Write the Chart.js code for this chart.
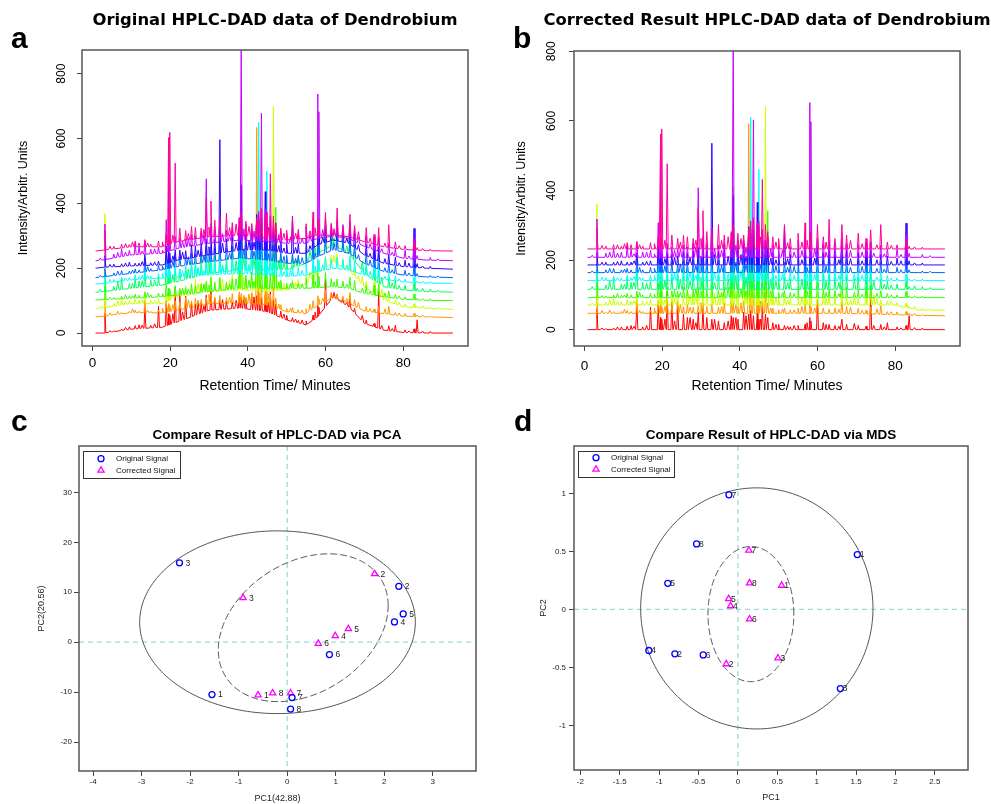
<!DOCTYPE html>
<html lang="en">
<head>
<meta charset="UTF-8">
<title>HPLC-DAD data of Dendrobium</title>
<script src="https://cdn.jsdelivr.net/npm/chart.js"></script>
<style>
  body { margin: 0; background: #fff; font-family: "Liberation Sans", Arial, sans-serif; }
  #figure { position: relative; width: 991px; height: 804px; overflow: hidden; background: #fff; }
  canvas { position: absolute; }
  .letter { position: absolute; font: bold 30px/30px "Liberation Sans", Arial, sans-serif; color: #000; }
  .title { position: absolute; text-align: center; white-space: nowrap; color: #000; }
  .big { font: bold 16.4px/16.4px "DejaVu Sans", sans-serif; }
  .small { font: bold 13.5px/13.5px "Liberation Sans", Arial, sans-serif; }
</style>
</head>
<body>
<div id="figure">
  <canvas id="chartA" width="495" height="400" style="left:0;top:0"></canvas>
  <canvas id="chartB" width="496" height="400" style="left:495px;top:0"></canvas>
  <canvas id="chartC" width="495" height="404" style="left:0;top:400px"></canvas>
  <canvas id="chartD" width="496" height="404" style="left:495px;top:400px"></canvas>

  <div class="letter" style="left:11px;top:23px">a</div>
  <div class="letter" style="left:513px;top:23px">b</div>
  <div class="letter" style="left:11px;top:406px">c</div>
  <div class="letter" style="left:514px;top:406px">d</div>

  <div class="title big" style="left:0;width:550px;top:12px">Original HPLC-DAD data of Dendrobium</div>
  <div class="title big" style="left:467px;width:600px;top:12px">Corrected Result HPLC-DAD data of Dendrobium</div>
  <div class="title small" style="left:77px;width:400px;top:428px">Compare Result of HPLC-DAD via PCA</div>
  <div class="title small" style="left:571px;width:400px;top:428px">Compare Result of HPLC-DAD via MDS</div>
</div>

<script>
  // ---- chromatograms (a, b) ----
  const traceNames = ['1', '2', '3', '4', '5', '6', '7', '8', '9', '10'];
  const traceColors = ['#FF0000', '#FF9900', '#CCFF00', '#33FF00', '#00FF66', '#00FFFF', '#0066FF', '#3300FF', '#CC00FF', '#FF0099'];
  const timeTicks = [0, 20, 40, 60, 80];
  const intensityTicks = [0, 200, 400, 600, 800];

  // main peak retention times (min)
  const retentionTimes = [3.2, 5.5, 7.5, 9.5, 11, 12, 13.5, 15, 17, 19,
    19.6, 19.9, 21.3, 22.5, 24, 25.5, 26.5, 28, 29.3, 30.5,
    31.5, 32.8, 34.5, 36, 37.8, 38.3, 39.5, 41, 42.3, 42.8,
    43.5, 44.5, 44.9, 45.8, 46.6, 47.2, 48.5, 50, 51.5, 53,
    55, 56.8, 58, 58.3, 60, 61.5, 63, 64.5, 66.3, 67.5,
    70.5, 72.5, 73.7, 76.3, 78, 80.5, 82.8, 83.6, 87];

  // main peak heights above the baseline, one array per sample
  const hRed = [60, 3, 5, 8, 10, 12, 65, 8, 65, 70, 35, 30, 110, 85, 70, 45, 35, 30, 50, 60, 35, 30, 25, 20, 40, 35, 30, 50, 45, 55, 40, 50, 30, 65, 45, 35, 20, 15, 12, 8, 12, 15, 35, 25, 85, 20, 15, 12, 30, 15, 12, 10, 120, 15, 20, 8, 12, 40, 5];
  const hOrange = [45, 3, 5, 5, 8, 5, 40, 5, 8, 35, 25, 20, 30, 25, 35, 20, 25, 18, 22, 30, 20, 25, 18, 30, 35, 30, 20, 35, 545, 50, 60, 45, 40, 35, 60, 30, 15, 10, 15, 10, 15, 25, 30, 20, 35, 15, 12, 15, 35, 20, 15, 10, 20, 25, 8, 8, 10, 5, 3];
  const hYellow = [290, 8, 25, 10, 15, 10, 25, 10, 15, 25, 20, 15, 25, 20, 30, 25, 45, 30, 35, 40, 30, 35, 25, 50, 45, 60, 30, 50, 40, 110, 70, 50, 45, 40, 570, 50, 25, 20, 25, 20, 25, 40, 35, 30, 35, 25, 30, 25, 40, 25, 20, 35, 40, 15, 12, 8, 12, 5, 5];
  const hGreen = [40, 5, 8, 8, 12, 8, 18, 8, 12, 40, 25, 20, 30, 20, 18, 30, 22, 25, 30, 45, 25, 40, 22, 30, 60, 320, 40, 50, 110, 80, 70, 60, 50, 45, 50, 250, 25, 15, 20, 15, 30, 40, 45, 35, 45, 25, 25, 20, 35, 30, 25, 30, 35, 20, 12, 8, 18, 5, 5];
  const hGreen2 = [45, 12, 35, 15, 30, 20, 55, 20, 25, 55, 45, 35, 45, 35, 40, 50, 45, 50, 60, 70, 50, 55, 40, 60, 70, 150, 60, 70, 80, 90, 80, 70, 60, 50, 50, 60, 35, 30, 35, 30, 50, 65, 55, 50, 60, 50, 45, 35, 60, 40, 35, 45, 50, 30, 25, 15, 25, 8, 8];
  const hCyan = [30, 8, 12, 8, 15, 8, 35, 8, 15, 45, 35, 25, 35, 25, 30, 40, 35, 30, 50, 45, 40, 50, 35, 45, 50, 70, 50, 60, 80, 470, 90, 80, 320, 60, 50, 50, 30, 25, 30, 25, 35, 45, 40, 35, 40, 30, 35, 30, 45, 35, 30, 35, 45, 25, 15, 8, 18, 5, 5];
  const hLightBlue = [25, 8, 12, 8, 12, 8, 40, 8, 15, 55, 35, 30, 40, 30, 25, 35, 30, 35, 50, 45, 40, 60, 35, 40, 50, 80, 45, 50, 70, 110, 80, 90, 70, 60, 50, 55, 30, 25, 30, 25, 40, 50, 45, 40, 45, 35, 40, 35, 50, 40, 35, 40, 50, 30, 25, 15, 35, 8, 5];
  const hBlue = [35, 8, 8, 12, 8, 8, 35, 8, 12, 55, 35, 30, 35, 30, 25, 40, 35, 40, 50, 60, 45, 350, 40, 50, 70, 200, 50, 60, 110, 90, 100, 180, 80, 70, 60, 50, 35, 30, 115, 30, 45, 55, 50, 40, 50, 35, 45, 40, 55, 45, 35, 40, 45, 30, 25, 20, 120, 12, 6];
  const hPurple = [110, 12, 25, 15, 35, 25, 40, 15, 20, 100, 55, 40, 40, 30, 25, 35, 30, 40, 200, 60, 40, 50, 35, 40, 70, 620, 50, 50, 70, 80, 395, 100, 90, 80, 50, 60, 35, 30, 40, 30, 50, 65, 445, 390, 55, 40, 50, 40, 55, 40, 35, 40, 45, 35, 25, 25, 65, 12, 8];
  const hPink = [60, 8, 12, 8, 18, 12, 22, 8, 18, 35, 330, 345, 245, 40, 30, 40, 35, 30, 120, 110, 50, 60, 70, 40, 50, 70, 45, 40, 60, 80, 90, 70, 80, 200, 70, 50, 35, 30, 70, 30, 45, 75, 50, 50, 70, 35, 85, 30, 70, 40, 45, 30, 55, 70, 20, 12, 25, 8, 5];
  const traceHeights = [hRed, hOrange, hYellow, hGreen, hGreen2, hCyan, hLightBlue, hBlue, hPurple, hPink];

  // minor peak retention times (min)
  const minorTimes = [2, 4.5, 6.5, 8.5, 10.3, 12.8, 14.2, 16, 18, 20.7,
    23.2, 24.7, 27.2, 28.7, 30, 33.5, 35.3, 37, 39, 40.3,
    41.6, 45.3, 48, 49.3, 51, 52.3, 54, 56, 57.3, 59.3,
    62.2, 65.5, 68.5, 69.5, 71.5, 74.5, 75.3, 77.2, 79, 81.5, 85, 89];
  const mRed = [0, 5, 0, 8, 0, 10, 0, 12, 0, 30, 25, 0, 35, 20, 0, 30, 0, 25, 35, 0, 40, 30, 0, 15, 0, 10, 12, 0, 20, 0, 15, 10, 0, 18, 0, 12, 0, 8, 0, 5, 6, 0];
  const mOrange = [0, 8, 10, 0, 12, 0, 8, 0, 15, 20, 0, 25, 18, 0, 30, 0, 20, 0, 25, 30, 0, 35, 15, 0, 12, 0, 10, 20, 0, 15, 0, 12, 18, 0, 10, 0, 15, 0, 8, 0, 5, 0];
  const mYellow = [5, 0, 15, 10, 0, 12, 0, 10, 0, 15, 20, 0, 30, 25, 0, 35, 30, 0, 40, 0, 30, 0, 25, 20, 0, 15, 0, 25, 15, 0, 20, 0, 15, 25, 0, 30, 20, 0, 10, 0, 8, 4];
  const mGreen = [0, 6, 0, 12, 8, 0, 15, 0, 10, 0, 20, 15, 0, 25, 20, 0, 15, 30, 0, 25, 20, 0, 20, 0, 15, 0, 12, 0, 20, 0, 15, 12, 0, 15, 10, 0, 12, 0, 8, 0, 5, 0];
  const mGreen2 = [8, 0, 25, 0, 15, 20, 0, 18, 0, 25, 0, 30, 25, 0, 35, 20, 0, 30, 40, 0, 35, 0, 30, 25, 0, 20, 0, 30, 25, 0, 25, 20, 0, 30, 0, 25, 0, 15, 12, 0, 10, 5];
  const mCyan = [0, 10, 0, 8, 0, 12, 10, 0, 15, 0, 20, 0, 25, 15, 0, 25, 0, 20, 0, 30, 0, 25, 0, 15, 20, 0, 15, 0, 20, 18, 0, 15, 0, 20, 15, 0, 10, 0, 8, 0, 5, 0];
  const mLightBlue = [5, 0, 12, 0, 10, 0, 15, 0, 12, 20, 0, 25, 0, 20, 25, 0, 20, 0, 30, 0, 25, 20, 0, 20, 0, 15, 18, 0, 15, 0, 20, 0, 15, 0, 18, 0, 12, 10, 0, 8, 0, 4];
  const mBlue = [0, 8, 0, 10, 0, 12, 0, 10, 0, 18, 22, 0, 20, 0, 25, 30, 0, 25, 0, 30, 25, 0, 20, 15, 0, 18, 0, 15, 0, 20, 0, 15, 18, 0, 12, 0, 15, 0, 10, 12, 6, 0];
  const mPurple = [6, 0, 15, 12, 0, 10, 0, 15, 10, 0, 20, 25, 0, 30, 0, 25, 20, 0, 35, 0, 30, 0, 25, 0, 20, 0, 15, 20, 0, 25, 15, 0, 20, 0, 15, 12, 0, 10, 0, 8, 0, 5];
  const mPink = [0, 10, 0, 12, 15, 0, 12, 0, 15, 25, 0, 20, 0, 25, 30, 0, 25, 35, 0, 30, 0, 35, 0, 20, 0, 18, 0, 20, 25, 0, 20, 0, 25, 0, 15, 0, 12, 0, 10, 0, 6, 0];
  const minorHeights = [mRed, mOrange, mYellow, mGreen, mGreen2, mCyan, mLightBlue, mBlue, mPurple, mPink];

  // baselines read at these times
  const baselineTimes = [0.8, 3, 10, 18, 22, 30, 38, 45, 50, 55, 58, 62, 66, 70, 75, 80, 86, 92.8];

  // original signal: drifting baselines
  const origBaselines = [
    [0, 0, 12, 18, 35, 70, 77, 66, 40, 25, 50, 112, 81, 30, 9, 2, 0, 0],
    [50, 52, 63, 62, 71, 90, 92, 87, 66, 60, 85, 110, 92, 68, 60, 52, 50, 48],
    [76, 78, 91, 91, 112, 128, 133, 128, 133, 153, 184, 220, 194, 143, 102, 81, 76, 73],
    [102, 103, 107, 112, 117, 128, 138, 138, 138, 138, 140, 143, 138, 122, 112, 104, 101, 100],
    [126, 128, 138, 148, 159, 184, 195, 195, 195, 215, 246, 272, 246, 184, 143, 133, 128, 126],
    [151, 153, 164, 169, 172, 179, 184, 179, 174, 179, 189, 200, 194, 179, 166, 158, 154, 153],
    [171, 174, 184, 195, 205, 220, 231, 225, 215, 215, 236, 257, 246, 215, 190, 179, 173, 171],
    [200, 203, 207, 210, 225, 241, 256, 256, 246, 246, 272, 287, 277, 241, 215, 205, 200, 197],
    [223, 226, 241, 246, 261, 277, 287, 282, 277, 277, 292, 299, 292, 267, 246, 231, 225, 223],
    [253, 256, 266, 266, 282, 297, 302, 292, 287, 292, 302, 302, 297, 282, 266, 258, 254, 253]
  ];

  // corrected signal: flat baselines
  const corrBaselines = [
    [0, 0, 0, 0, 0, 0, 0, 0, 0, 0, 0, 0, 0, 0, 0, 0, 0, 0],
    [47, 47, 47, 47, 47, 47, 47, 47, 47, 47, 47, 47, 47, 46, 45, 43, 41, 40],
    [71, 71, 71, 71, 71, 71, 71, 71, 71, 71, 71, 71, 71, 71, 71, 71, 56, 56],
    [92, 92, 92, 92, 92, 92, 92, 92, 92, 92, 92, 92, 92, 92, 92, 92, 92, 92],
    [116, 116, 116, 116, 116, 116, 116, 116, 116, 116, 116, 116, 116, 116, 116, 116, 116, 116],
    [141, 141, 141, 141, 141, 141, 141, 141, 141, 141, 141, 141, 141, 141, 141, 141, 141, 141],
    [164, 164, 164, 164, 164, 164, 164, 164, 164, 164, 164, 164, 164, 164, 164, 164, 164, 164],
    [186, 186, 186, 186, 186, 186, 186, 186, 186, 186, 186, 186, 186, 186, 186, 186, 186, 186],
    [208, 208, 208, 208, 208, 208, 208, 208, 208, 208, 208, 208, 208, 208, 208, 208, 208, 208],
    [232, 232, 232, 232, 232, 232, 232, 232, 232, 232, 232, 232, 232, 232, 232, 232, 232, 232]
  ];

  // ---- PCA (c) ----
  const sampleLabels = ['1', '2', '3', '4', '5', '6', '7', '8'];
  const pcaOrigX = [-1.55, 2.30, -2.22, 2.21, 2.39, 0.87, 0.10, 0.07];
  const pcaOrigY = [-10.5, 11.2, 15.9, 4.07, 5.67, -2.47, -11.1, -13.4];
  const pcaCorrX = [-0.60, 1.80, -0.91, 0.99, 1.26, 0.64, 0.07, -0.30];
  const pcaCorrY = [-10.6, 13.7, 8.9, 1.27, 2.67, -0.27, -10.2, -10.2];
  const pcaXTicks = [-4, -3, -2, -1, 0, 1, 2, 3];
  const pcaYTicks = [-20, -10, 0, 10, 20, 30];
  // ellipses: centre x, centre y, half-range x, half-range y, phase
  const pcaEllipseOrig = [-0.20, 4.0, 2.84, 18.3, 1.5708];
  const pcaEllipseCorr = [0.33, 2.9, 1.75, 14.8, 1.266];

  // ---- MDS (d) ----
  const mdsOrigX = [1.515, -0.80, 1.30, -1.13, -0.89, -0.44, -0.114, -0.524];
  const mdsOrigY = [0.473, -0.383, -0.683, -0.354, 0.225, -0.392, 0.989, 0.565];
  const mdsCorrX = [0.555, -0.148, 0.508, -0.093, -0.118, 0.148, 0.14, 0.148];
  const mdsCorrY = [0.207, -0.47, -0.42, 0.03, 0.092, -0.083, 0.51, 0.228];
  const mdsXTicks = [-2, -1.5, -1, -0.5, 0, 0.5, 1, 1.5, 2, 2.5];
  const mdsYTicks = [-1, -0.5, 0, 0.5, 1];
  const mdsEllipseOrig = [0.24, 0.009, 1.474, 1.04, 1.5708];
  const mdsEllipseCorr = [0.165, -0.04, 0.545, 0.583, 1.5708];

  Chart.defaults.font.family = '"Liberation Sans", Arial, sans-serif';
  Chart.defaults.color = '#000';

  function baselineAt(base, t) {
    for (let k = 1; k < baselineTimes.length; k++) {
      if (t <= baselineTimes[k]) {
        const f = (t - baselineTimes[k - 1]) / (baselineTimes[k] - baselineTimes[k - 1]);
        return base[k - 1] + f * (base[k] - base[k - 1]);
      }
    }
    return base[base.length - 1];
  }

  // baseline knots plus one narrow spike per peak
  function buildTrace(base, heights, minors) {
    const pts = baselineTimes.map((t, k) => ({ x: t, y: base[k] }));
    const addPeak = (t, h, w) => {
      if (!h) return;
      pts.push({ x: t - w, y: baselineAt(base, t - w) });
      pts.push({ x: t, y: baselineAt(base, t) + h });
      pts.push({ x: t + w, y: baselineAt(base, t + w) });
    };
    retentionTimes.forEach((t, k) => addPeak(t, heights[k], 0.25));
    minorTimes.forEach((t, k) => addPeak(t, minors[k], 0.35));
    return pts.sort((p, q) => p.x - q.x);
  }

  function fixSize(prop, v) {
    return s => {
      s[prop] = v;
      s.paddingTop = s.paddingBottom = s.paddingLeft = s.paddingRight = 0;
    };
  }

  function setTicks(values) {
    return s => { s.ticks = values.map(v => ({ value: v })); };
  }

  const framePlugin = {
    id: 'frame',
    afterDraw(chart) {
      const { ctx, chartArea: a } = chart;
      ctx.save();
      ctx.strokeStyle = '#555';
      ctx.lineWidth = 1.5;
      ctx.strokeRect(a.left, a.top, a.right - a.left, a.bottom - a.top);
      ctx.restore();
    }
  };

  function chromChart(id, baselines, yMin, yMax, lay) {
    const datasets = traceColors.map((c, i) => ({
      label: traceNames[i],
      data: buildTrace(baselines[i], traceHeights[i], minorHeights[i]),
      borderColor: c,
      borderWidth: 1,
      pointRadius: 0,
      fill: false,
      tension: 0
    })).reverse();   // last sample drawn on top

    return new Chart(document.getElementById(id), {
      type: 'line',
      data: { datasets },
      options: {
        responsive: false,
        animation: false,
        events: [],
        layout: { padding: lay.padding },
        plugins: { legend: { display: false }, tooltip: { enabled: false } },
        scales: {
          x: {
            type: 'linear', min: -2.7, max: 96.7,
            afterBuildTicks: setTicks(timeTicks),
            afterFit: fixSize('height', 50),
            border: { display: false },
            grid: { drawOnChartArea: false, tickLength: 5, color: '#444' },
            ticks: { font: { size: 13.5 }, padding: lay.xTickPad, maxRotation: 0, autoSkip: false },
            title: { display: true, text: 'Retention Time/ Minutes', font: { size: 14 }, padding: { top: 0, bottom: 1 } }
          },
          y: {
            type: 'linear', min: yMin, max: yMax,
            afterBuildTicks: setTicks(intensityTicks),
            afterFit: fixSize('width', 70),
            border: { display: false },
            grid: { drawOnChartArea: false, tickLength: 5, color: '#444' },
            ticks: { font: { size: 12 }, padding: lay.yTickPad, minRotation: 90, maxRotation: 90, crossAlign: 'center', autoSkip: false },
            title: { display: true, text: 'Intensity/Arbitr. Units', font: { size: 12.5 }, padding: { top: lay.yTitlePad, bottom: 0 } }
          }
        }
      },
      plugins: [framePlugin]
    });
  }

  function ellipsePlugin(outer, inner) {
    return {
      id: 'ellipses',
      beforeDatasetsDraw(chart) {
        const { ctx, scales: { x, y } } = chart;
        [[outer, []], [inner, [7, 3]]].forEach(([p, dash]) => {
          const [cx, cy, ax, ay, phi] = p;
          ctx.save();
          ctx.beginPath();
          for (let k = 0; k <= 200; k++) {
            const t = k / 200 * 2 * Math.PI;
            const px = x.getPixelForValue(cx + ax * Math.cos(t));
            const py = y.getPixelForValue(cy + ay * Math.cos(t - phi));
            if (k === 0) ctx.moveTo(px, py); else ctx.lineTo(px, py);
          }
          ctx.setLineDash(dash);
          ctx.strokeStyle = '#555';
          ctx.lineWidth = 1;
          ctx.stroke();
          ctx.restore();
        });
      }
    };
  }

  const zeroLinesPlugin = {
    id: 'zeroLines',
    beforeDatasetsDraw(chart) {
      const { ctx, chartArea: a, scales: { x, y } } = chart;
      const px = x.getPixelForValue(0), py = y.getPixelForValue(0);
      ctx.save();
      ctx.strokeStyle = '#9ed9d9';
      ctx.lineWidth = 1.3;
      ctx.setLineDash([5, 4]);
      ctx.beginPath();
      ctx.moveTo(px, a.top); ctx.lineTo(px, a.bottom);
      ctx.moveTo(a.left, py); ctx.lineTo(a.right, py);
      ctx.stroke();
      ctx.restore();
    }
  };

  function pointLabelsPlugin(dx, dy) {
    return {
      id: 'pointLabels',
      afterDatasetsDraw(chart) {
        const ctx = chart.ctx;
        ctx.save();
        ctx.font = '8.5px "Liberation Sans", Arial, sans-serif';
        ctx.fillStyle = '#222';
        ctx.textAlign = 'left';
        ctx.textBaseline = 'middle';
        chart.data.datasets.forEach((ds, i) => {
          chart.getDatasetMeta(i).data.forEach((el, j) => {
            ctx.fillText(sampleLabels[j], el.x + dx, el.y + dy);
          });
        });
        ctx.restore();
      }
    };
  }

  function legendPlugin(box, rows) {
    return {
      id: 'insetLegend',
      afterDraw(chart) {
        const ctx = chart.ctx;
        ctx.save();
        ctx.strokeStyle = '#333';
        ctx.lineWidth = 1;
        ctx.strokeRect(box[0] + 0.5, box[1] + 0.5, box[2], box[3]);
        ctx.font = '8px "Liberation Sans", Arial, sans-serif';
        ctx.textBaseline = 'middle';
        chart.data.datasets.forEach((ds, i) => {
          ctx.strokeStyle = ds.pointBorderColor;
          ctx.fillStyle = 'rgba(0,0,0,0)';
          ctx.lineWidth = ds.pointBorderWidth;
          Chart.helpers.drawPoint(ctx, { pointStyle: ds.pointStyle, radius: ds.pointRadius, borderWidth: ds.pointBorderWidth, rotation: 0 }, box[0] + 18, rows[i]);
          ctx.fillStyle = '#111';
          ctx.fillText(ds.label, box[0] + 33, rows[i]);
        });
        ctx.restore();
      }
    };
  }

  function scoreChart(id, series, ranges, ticks, ellipses, lay) {
    const datasets = [
      { label: 'Original Signal', data: series[0].map((x, i) => ({ x, y: series[1][i] })),
        pointStyle: 'circle', pointRadius: 3, pointBorderWidth: 1.3, pointBorderColor: '#0000FF', pointBackgroundColor: 'rgba(0,0,0,0)' },
      { label: 'Corrected Signal', data: series[2].map((x, i) => ({ x, y: series[3][i] })),
        pointStyle: 'triangle', pointRadius: 3.6, pointBorderWidth: 1.3, pointBorderColor: '#FF00FF', pointBackgroundColor: 'rgba(0,0,0,0)' }
    ];
    const axis = (r, t, fit, tickPad, title, titlePad) => ({
      type: 'linear', min: r[0], max: r[1],
      afterBuildTicks: setTicks(t),
      afterFit: fit,
      border: { display: false },
      grid: { drawOnChartArea: false, tickLength: 5, color: '#444' },
      ticks: { font: { size: 8 }, color: '#222', padding: tickPad, maxRotation: 0, autoSkip: false, callback: v => String(v) },
      title: { display: true, text: title, font: { size: 9 }, color: '#222', padding: titlePad }
    });

    return new Chart(document.getElementById(id), {
      type: 'scatter',
      data: { datasets },
      options: {
        responsive: false,
        animation: false,
        events: [],
        layout: { padding: lay.padding },
        plugins: { legend: { display: false }, tooltip: { enabled: false } },
        scales: {
          x: axis(ranges[0], ticks[0], fixSize('height', lay.xH), lay.xTickPad, lay.xTitle, { top: 0, bottom: lay.xTitlePad }),
          y: axis(ranges[1], ticks[1], fixSize('width', 50), lay.yTickPad, lay.yTitle, { top: lay.yTitlePad, bottom: 0 })
        }
      },
      plugins: [zeroLinesPlugin, ellipsePlugin(ellipses[0], ellipses[1]), pointLabelsPlugin(lay.labelDx, 0.5), framePlugin, legendPlugin(lay.legendBox, lay.legendRows)]
    });
  }

  chromChart('chartA', origBaselines, -40, 873, {
    padding: { left: 12, top: 50, right: 27, bottom: 4 }, yTitlePad: 4, yTickPad: 5, xTickPad: 4
  });
  chromChart('chartB', corrBaselines, -47, 801, {
    padding: { left: 9, top: 51, right: 31, bottom: 4 }, yTitlePad: 10.5, yTickPad: 7, xTickPad: 7
  });

  scoreChart('chartC', [pcaOrigX, pcaOrigY, pcaCorrX, pcaCorrY], [[-4.29, 3.89], [-25.8, 39.3]],
    [pcaXTicks, pcaYTicks], [pcaEllipseOrig, pcaEllipseCorr], {
      padding: { left: 29, top: 46, right: 19, bottom: 0 }, xH: 33,
      xTickPad: 1, yTickPad: 2, xTitle: 'PC1(42.88)', yTitle: 'PC2(20.56)', xTitlePad: 0, yTitlePad: 7,
      labelDx: 6, legendBox: [83, 51, 97, 27], legendRows: [58.7, 70.3]
    });

  scoreChart('chartD', [mdsOrigX, mdsOrigY, mdsCorrX, mdsCorrY], [[-2.08, 2.92], [-1.385, 1.41]],
    [mdsXTicks, mdsYTicks], [mdsEllipseOrig, mdsEllipseCorr], {
      padding: { left: 29, top: 46, right: 23, bottom: 0 }, xH: 34,
      xTickPad: 2, yTickPad: 3, xTitle: 'PC1', yTitle: 'PC2', xTitlePad: 1.3, yTitlePad: 14.6,
      labelDx: 2.5, legendBox: [83, 51, 96, 26], legendRows: [57.7, 69.3]
    });
</script>
</body>
</html>
